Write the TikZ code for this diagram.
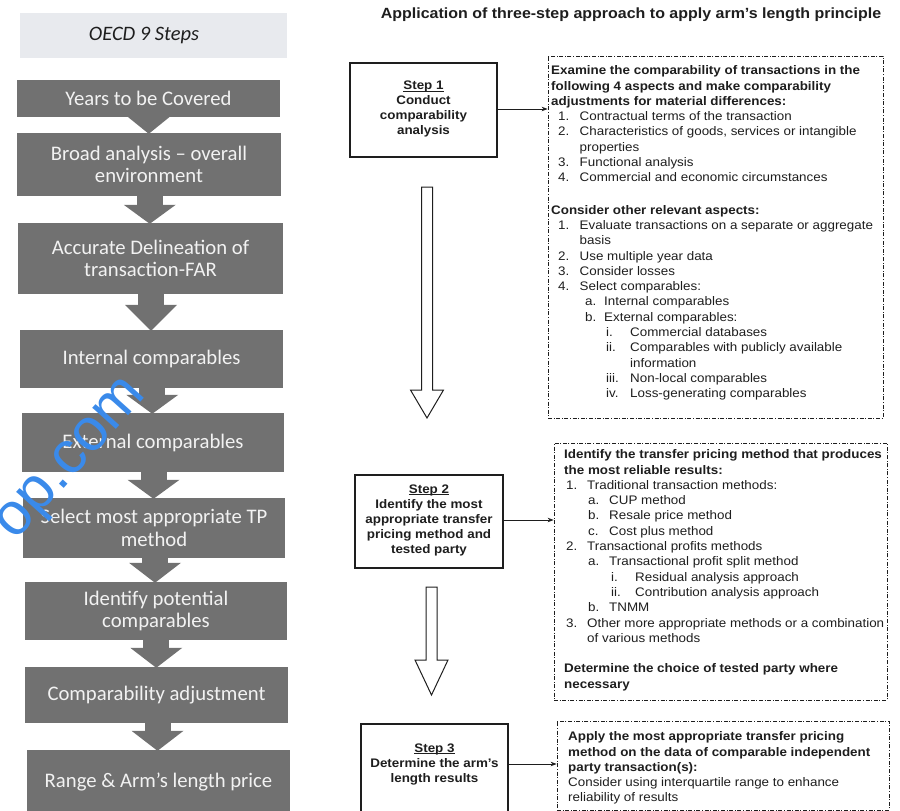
\documentclass[tikz,border=0pt]{standalone}
\usepackage{fontspec}
\setmainfont{Liberation Sans}
\newfontfamily\arialf[FakeStretch=1.08]{Liberation Sans}
\newfontfamily\calibf{Carlito}
\usetikzlibrary{arrows.meta,calc,backgrounds}

\definecolor{boxgray}{HTML}{717171}
\definecolor{boxtext}{HTML}{F2F2F2}
\definecolor{bannerbg}{HTML}{E8EAEE}
\definecolor{inkc}{HTML}{1E1E1E}
\definecolor{markblue}{HTML}{3A8AEA}

% list line: indent, label width, label, text
\newcommand\lvl[4]{\hspace*{#1pt}\makebox[#2pt][l]{#3}#4}

% underline sitting close to the baseline
\newcommand\stepul[1]{\setbox0\hbox{#1}\rlap{\rule[-2.2pt]{\wd0}{0.9pt}}\box0}

% grey block arrow between two stacked boxes (#3 = head length)
\newcommand\grayarrow[3]{%
  \fill[boxgray] let \p1=(#1.south), \p2=(#2.north), \n1={(\x1+\x2)/2} in
    (\n1-13pt,\y1+2pt) rectangle (\n1+13pt,\y2+#3);
  \fill[boxgray] let \p1=(#1.south), \p2=(#2.north), \n1={(\x1+\x2)/2} in
    (\n1-26pt,\y2+#3) -- (\n1+26pt,\y2+#3) -- (\n1,\y2-1pt) -- cycle;}

% outlined block arrow from #1 (top of shaft) to #2 (tip), #3 = head length
\newcommand\hollowarrow[3]{%
  \draw[hollow] let \p1=(#1), \p2=(#2) in
    (\x1-5.5pt,\y1) -- (\x1+5.5pt,\y1) -- (\x1+5.5pt,\y2+#3) -- (\x1+16.5pt,\y2+#3)
    -- (\x1,\y2) -- (\x1-16.5pt,\y2+#3) -- (\x1-5.5pt,\y2+#3) -- cycle;}

\begin{document}
\begin{tikzpicture}[x=1pt,y=-1pt,
  graybox/.style={fill=boxgray, text=boxtext, inner sep=0pt, align=center,
    font=\calibf\fontsize{20.7}{22.5}\selectfont},
  banner/.style={fill=bannerbg, inner sep=0pt},
  bannertext/.style={text=inkc, inner sep=0pt,
    font=\calibf\itshape\fontsize{20.5}{24}\selectfont},
  stepframe/.style={draw=inkc, line width=1.1pt, fill=white, inner sep=0pt},
  steplabel/.style={text=inkc, align=center, inner sep=0pt,
    font=\arialf\bfseries\fontsize{12.4}{15}\selectfont},
  dashframe/.style={draw=inkc, line width=0.8pt,
    dash pattern=on 4pt off 1.6pt on 1pt off 1.6pt, inner sep=0pt},
  listtext/.style={text=inkc, align=left, anchor=north west, inner sep=0pt,
    font=\arialf\fontsize{12.4}{15.3}\selectfont},
  conn/.style={draw=inkc, line width=0.8pt, -{Stealth[length=6pt,width=4.5pt]}},
  hollow/.style={draw=inkc, line width=1pt, fill=white, line join=miter},
]
\useasboundingbox (0,0) rectangle (900,811);
\clip (0,0) rectangle (900,811);

% ---------- left column: OECD 9 steps ----------
\node[banner, minimum width=267pt, minimum height=45pt] (head) at (153.5,35.5) {};
\node[bannertext] (headt) at (144,35) {OECD 9 Steps};

\node[graybox, minimum width=263pt, minimum height=37pt] (b1) at (148.5,98.5) {Years to be Covered};
\node[graybox, minimum width=264pt, minimum height=63pt] (b2) at (149,164.5) {Broad analysis – overall\\environment};
\node[graybox, minimum width=265pt, minimum height=71pt] (b3) at (150.5,258.5) {Accurate Delineation of\\transaction-FAR};
\node[graybox, minimum width=263pt, minimum height=58pt] (b4) at (151.5,359) {Internal comparables};
\node[graybox, minimum width=262pt, minimum height=59pt] (b5) at (153,442.5) {External comparables};
\node[graybox, minimum width=262pt, minimum height=60pt] (b6) at (154,528) {Select most appropriate TP\\method};
\node[graybox, minimum width=262pt, minimum height=58pt] (b7) at (156,611) {Identify potential\\comparables};
\node[graybox, minimum width=263pt, minimum height=56pt] (b8) at (156.5,695) {Comparability adjustment};
\node[graybox, minimum width=263pt, minimum height=64pt] (b9) at (158.5,782) {Range \& Arm’s length price};

\begin{pgfonlayer}{background}
  \grayarrow{b1}{b2}{20pt}
  \grayarrow{b2}{b3}{18pt}
  \grayarrow{b3}{b4}{25pt}
  \grayarrow{b4}{b5}{18pt}
  \grayarrow{b5}{b6}{18pt}
  \grayarrow{b6}{b7}{19pt}
  \grayarrow{b7}{b8}{19pt}
  \grayarrow{b8}{b9}{19pt}
\end{pgfonlayer}

% ---------- right column: three-step approach ----------
\node[font=\arialf\bfseries\fontsize{14.8}{18}\selectfont, text=inkc, inner sep=0pt] (title)
  at (631,15) {Application of three-step approach to apply arm’s length principle};

% step boxes
\node[stepframe, minimum width=147pt, minimum height=94pt] (s1) at (423.5,110) {};
\node[steplabel] (s1t) at (423.5,109) {\stepul{Step 1}\\Conduct\\comparability\\analysis};

\node[stepframe, minimum width=148pt, minimum height=93pt] (s2) at (429,521.5) {};
\node[steplabel] (s2t) at (429,520) {\stepul{Step 2}\\Identify the most\\appropriate transfer\\pricing method and\\tested party};

\node[stepframe, minimum width=147pt, minimum height=106pt] (s3) at (434.5,777) {};
\node[steplabel] (s3t) at (434.5,764) {\stepul{Step 3}\\Determine the arm’s\\length results};

% dashed detail boxes
\node[dashframe, minimum width=335pt, minimum height=362pt] (d1) at (715.5,237) {};
\node[dashframe, minimum width=333pt, minimum height=257pt] (d2) at (720.5,571.5) {};
\node[dashframe, minimum width=332pt, minimum height=89pt] (d3) at (723,765.5) {};

\node[listtext] (d1t) at (551,63.5) {\rule{0pt}{11pt}%
\textbf{Examine the comparability of transactions in the}\\
\textbf{following 4 aspects and make comparability}\\
\textbf{adjustments for material differences:}\\
\lvl{7}{21.5}{1.}{Contractual terms of the transaction}\\
\lvl{7}{21.5}{2.}{Characteristics of goods, services or intangible}\\
\hspace*{28.5pt}properties\\
\lvl{7}{21.5}{3.}{Functional analysis}\\
\lvl{7}{21.5}{4.}{Commercial and economic circumstances}\\[17pt]
\textbf{Consider other relevant aspects:}\\
\lvl{7}{21.5}{1.}{Evaluate transactions on a separate or aggregate}\\
\hspace*{28.5pt}basis\\
\lvl{7}{21.5}{2.}{Use multiple year data}\\
\lvl{7}{21.5}{3.}{Consider losses}\\
\lvl{7}{21.5}{4.}{Select comparables:}\\
\lvl{34}{19}{a.}{Internal comparables}\\
\lvl{34}{19}{b.}{External comparables:}\\
\lvl{55}{24}{i.}{Commercial databases}\\
\lvl{55}{24}{ii.}{Comparables with publicly available}\\
\hspace*{79pt}information\\
\lvl{55}{24}{iii.}{Non-local comparables}\\
\lvl{55}{24}{iv.}{Loss-generating comparables}};

\node[listtext] (d2t) at (564,447.5) {\rule{0pt}{11pt}%
\textbf{Identify the transfer pricing method that produces}\\
\textbf{the most reliable results:}\\
\lvl{2}{21}{1.}{Traditional transaction methods:}\\
\lvl{24}{21}{a.}{CUP method}\\
\lvl{24}{21}{b.}{Resale price method}\\
\lvl{24}{21}{c.}{Cost plus method}\\
\lvl{2}{21}{2.}{Transactional profits methods}\\
\lvl{24}{21}{a.}{Transactional profit split method}\\
\lvl{47}{24}{i.}{Residual analysis approach}\\
\lvl{47}{24}{ii.}{Contribution analysis approach}\\
\lvl{24}{21}{b.}{TNMM}\\
\lvl{2}{21}{3.}{Other more appropriate methods or a combination}\\
\hspace*{23pt}of various methods\\[15.3pt]
\textbf{Determine the choice of tested party where}\\
\textbf{necessary}};

\node[listtext] (d3t) at (568,729.5) {\rule{0pt}{11pt}%
\textbf{Apply the most appropriate transfer pricing}\\
\textbf{method on the data of comparable independent}\\
\textbf{party transaction(s):}\\
Consider using interquartile range to enhance\\
reliability of results};

% connectors from each step to its details
\draw[conn] (s1.east |- s1t) -- (d1.west |- s1t);
\draw[conn] (s2.east |- s2t) -- (d2.west |- s2t);
\draw[conn] (s3.east |- s3t) -- (d3.west |- s3t);

% flow arrows between the steps
\coordinate (h1top) at (427,187);
\coordinate (h1tip) at (427,418);
\coordinate (h2top) at (431.5,587);
\coordinate (h2tip) at (431.5,695);
\hollowarrow{h1top}{h1tip}{28pt}
\hollowarrow{h2top}{h2tip}{35pt}

% site mark across the left column
\node[text=markblue, rotate=48, inner sep=0pt, font=\fontsize{60}{60}\selectfont] (mark) at (74,462) {op.com};
\end{tikzpicture}
\end{document}
